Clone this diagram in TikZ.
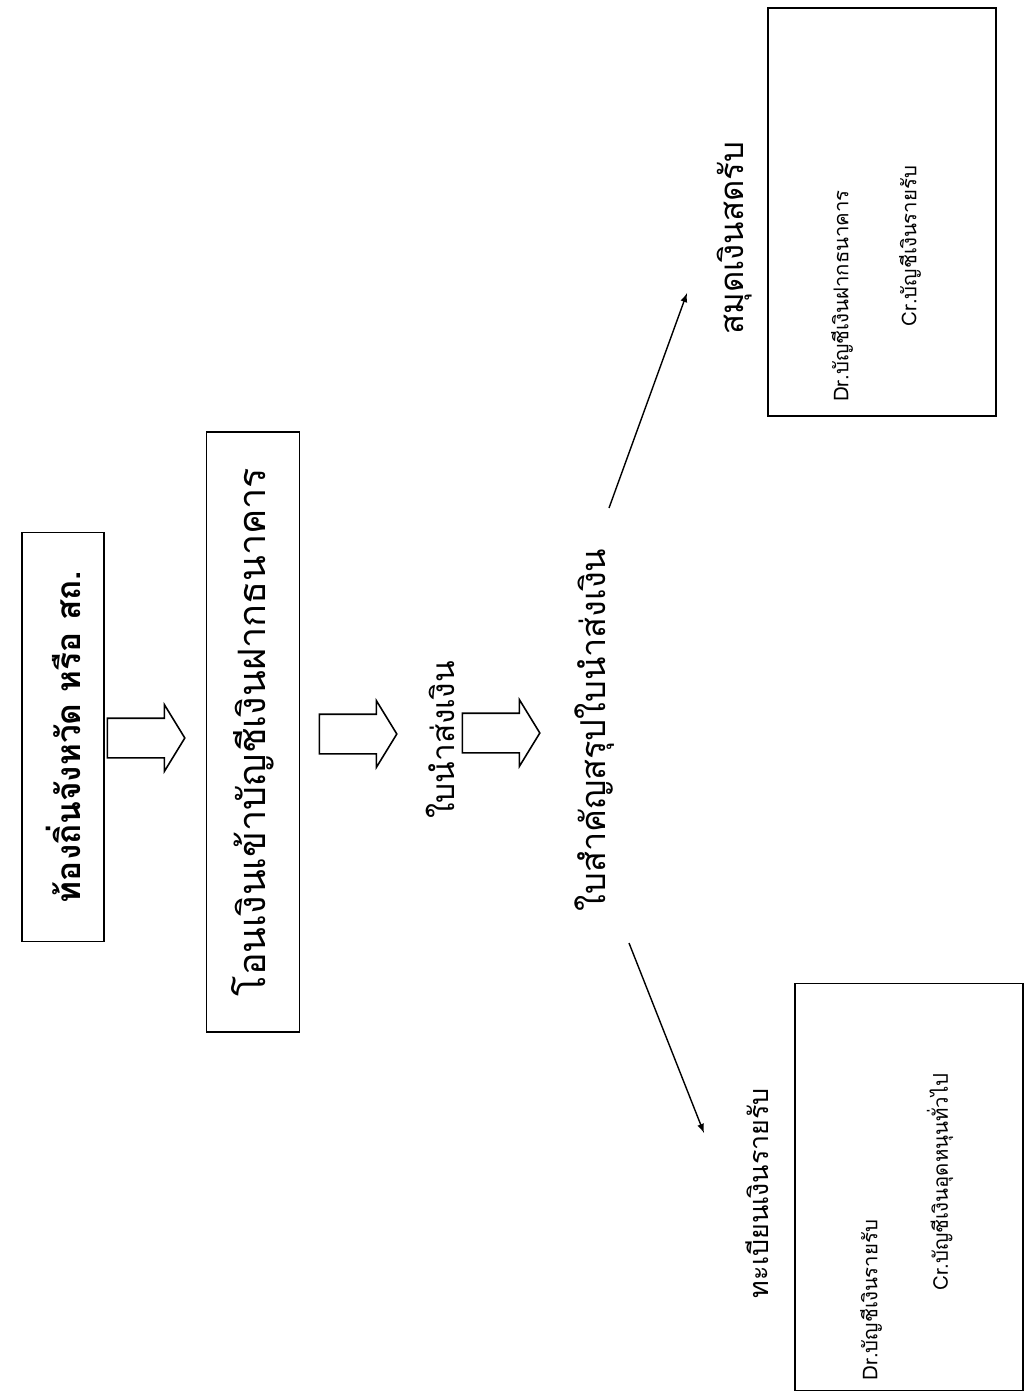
\documentclass[tikz,border=0pt]{standalone}
\usepackage{fontspec}
\newfontfamily\thaifont[Script=Thai]{Loma}
\usetikzlibrary{shapes,arrows,positioning,calc}

\begin{document}
\begin{tikzpicture}[x=0.2mm,y=-0.2mm,
    box/.style={draw, line width=1.1pt, inner sep=0pt},
    doc/.style={rotate=90, inner sep=1pt, font=\thaifont\fontsize{#1}{#1}\selectfont},
    doc/.default=19,
    entry/.style={rotate=90, inner sep=1pt, font=\thaifont\fontsize{11.6}{14}\selectfont},
    fatarrow/.style={single arrow, draw, line width=0.9pt, fill=white,
        inner xsep=0pt, inner ysep=3.8mm, minimum height=15.5mm,
        single arrow head extend=2.7mm, single arrow tip angle=117},
    flow/.style={line width=0.8pt, -latex}]
    \useasboundingbox (0,0) rectangle (1029,1398);

    % กล่องด้านซ้าย
    \node[box, doc=19, minimum width=81.8mm, minimum height=16.4mm, font=\thaifont\bfseries\fontsize{19}{19}\selectfont] (local) at (63,737) {ท้องถิ่นจังหวัด หรือ สถ.};
    \node[box, doc=21.5, minimum width=120mm, minimum height=18.6mm] (transfer) at (253,732) {โอนเงินเข้าบัญชีเงินฝากธนาคาร};

    % ลูกศรใหญ่
    \node[fatarrow] (arr1) at (140,738) {};
    \node[fatarrow] (arr2) at (352,734) {};
    \node[fatarrow] (arr3) at (495,733) {};

    % เอกสาร
    \node[doc=18] (slip) at (440,740) {ใบนำส่งเงิน};
    \node[doc=19.5] (sum) at (595,730) {ใบสำคัญสรุปใบนำส่งเงิน};

    % สมุดเงินสดรับ
    \node[doc=18.7] (cash) at (735,238) {สมุดเงินสดรับ};
    \node[box, minimum width=45.6mm, minimum height=81.6mm] (cashbox) at (882,212) {};
    \node[entry] (cashdr) at (842,296) {Dr.บัญชีเงินฝากธนาคาร};
    \node[entry] (cashcr) at (910,246) {Cr.บัญชีเงินรายรับ};

    % ทะเบียนเงินรายรับ
    \node[doc=15.3] (ledger) at (757,1193) {ทะเบียนเงินรายรับ};
    \node[box, minimum width=45.6mm, minimum height=81.4mm] (ledgerbox) at (909,1187) {};
    \node[entry] (ledgerdr) at (871,1300) {Dr.บัญชีเงินรายรับ};
    \node[entry] (ledgercr) at (940,1182) {Cr.บัญชีเงินอุดหนุนทั่วไป};

    % เส้นเชื่อม
    \draw[flow] ($(sum)+(14,-222)$) -- ($(cash)+(-48,55)$);
    \draw[flow] ($(sum)+(34,213)$) -- ($(ledger)+(-53,-60)$);
\end{tikzpicture}
\end{document}
